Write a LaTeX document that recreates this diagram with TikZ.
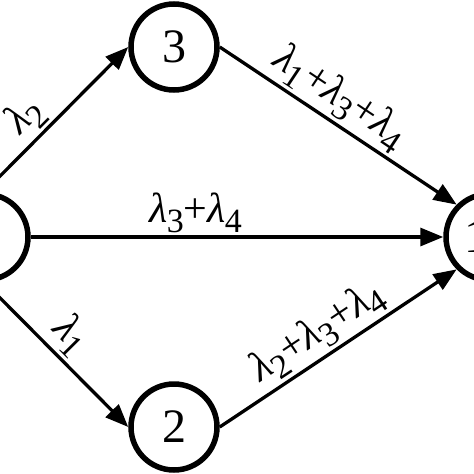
\documentclass[tikz,border=0pt]{standalone}
\usepackage{fontspec}
\setmainfont{Liberation Serif}
\usetikzlibrary{arrows.meta}
\newcommand{\lm}[1]{{\itshape λ}\kern-0.02em\raisebox{-0.22em}{\fontsize{34}{34}\selectfont #1}}
\begin{document}
\begin{tikzpicture}[x=1pt,y=-1pt,
  vertex/.style={circle,draw,line width=5.5pt,minimum size=86pt,inner sep=0pt,font=\fontsize{48}{48}\selectfont},
  link/.style={line width=3.3pt,-{Triangle[length=23pt,width=18pt]}},
  lab/.style={font=\fontsize{42}{42}\selectfont,sloped,above,inner sep=3pt}]
\useasboundingbox (0,0) rectangle (474,474);
\clip (0,0) rectangle (474,474);
\node[vertex] (n1) at (-15,237) {};
\node[vertex] (n3) at (174,47) {3};
\node[vertex] (n2) at (174,427) {2};
\node[vertex] (n4) at (489,237) {\makebox[0pt]{1\hspace{26pt}}};
\draw[link] (n1.north) -- node[lab,pos=0.4]{\lm{2}} (n3.west);
\draw[link] (n1.south) -- node[lab,pos=0.48]{\lm{1}} (n2.west);
\draw[link] (n1.east) -- node[lab,pos=0.4]{\lm{3}+\lm{4}} (n4.west);
\draw[link] (n3.east) -- node[lab,pos=0.45]{\lm{1}+\lm{3}+\lm{4}} (n4.north west);
\draw[link] (n2.east) -- node[lab,pos=0.47]{\lm{2}+\lm{3}+\lm{4}} (n4.south west);
\end{tikzpicture}
\end{document}
